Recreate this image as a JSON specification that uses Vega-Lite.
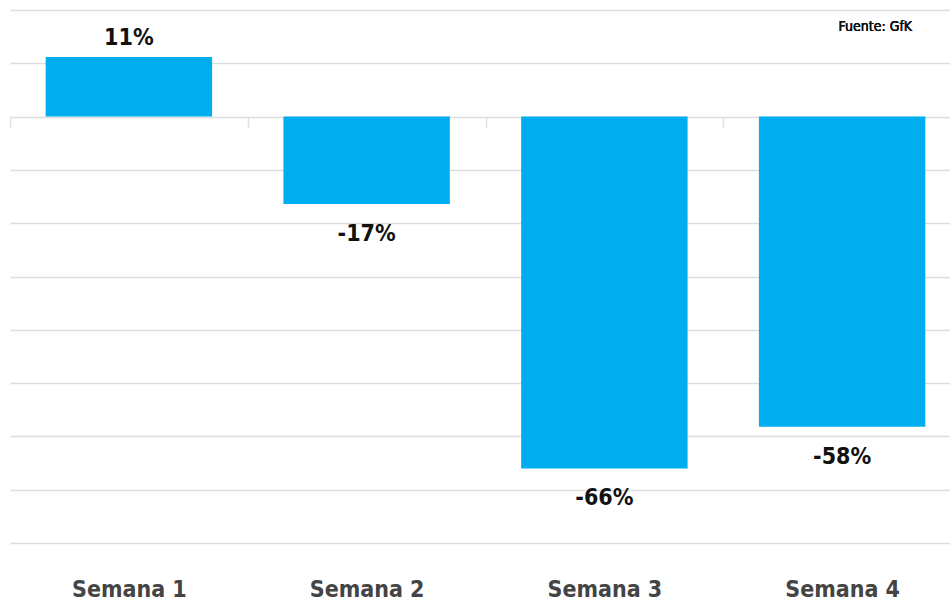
{
  "$schema": "https://vega.github.io/schema/vega-lite/v6.json",
  "autosize": "none",
  "padding": {"left": 10, "top": 10, "right": 0, "bottom": 64},
  "width": 951,
  "height": 533,
  "background": "white",
  "config": {"view": {"stroke": null}, "font": "DejaVu Sans Condensed"},
  "data": {"values": [
    {"semana": "Semana 1", "value": 11.2, "label": "11%"},
    {"semana": "Semana 2", "value": -16.4, "label": "-17%"},
    {"semana": "Semana 3", "value": -66, "label": "-66%"},
    {"semana": "Semana 4", "value": -58.2, "label": "-58%"}
  ]},
  "encoding": {
    "x": {"field": "semana", "type": "nominal", "sort": null, "title": null,
      "scale": {"paddingInner": 0.3, "paddingOuter": 0.15},
      "axis": {"orient": "bottom", "offset": -426, "domain": false,
        "ticks": true, "tickOffset": -118.85, "labelOffset": 118.85, "tickSize": 10, "tickColor": "#dddddd", "tickWidth": 1.5,
        "labelAngle": 0, "labelFontSize": 23, "labelFontWeight": "bold",
        "labelColor": "#444444", "labelPadding": 451, "labelFont": "DejaVu Sans Condensed"}},
    "y": {"field": "value", "type": "quantitative", "title": null,
      "scale": {"domain": [-80, 20], "nice": false, "zero": false},
      "axis": {"orient": "left", "domain": false, "ticks": false, "labels": false,
        "values": [-80, -70, -60, -50, -40, -30, -20, -10, 0, 10, 20],
        "grid": true, "gridColor": "#dddddd", "gridWidth": 1.5}}
  },
  "layer": [
    {
      "mark": {"type": "bar", "color": "#00AEEF"}
    },
    {
      "transform": [{"filter": "datum.value > 0"}],
      "mark": {"type": "text", "baseline": "alphabetic", "dy": -12, "fontSize": 23, "fontWeight": "bold", "color": "#111111", "font": "DejaVu Sans Condensed"},
      "encoding": {"text": {"field": "label"}}
    },
    {
      "transform": [{"filter": "datum.value < 0"}],
      "mark": {"type": "text", "baseline": "top", "dy": 19, "fontSize": 23, "fontWeight": "bold", "color": "#111111", "font": "DejaVu Sans Condensed"},
      "encoding": {"text": {"field": "label"}}
    },
    {
      "mark": {"type": "text", "align": "right", "baseline": "alphabetic", "dx": 70, "fontSize": 14, "color": "#111111", "font": "DejaVu Sans Condensed"},
      "encoding": {
        "x": {"datum": "Semana 4"},
        "y": {"datum": 16},
        "text": {"value": "Fuente: GfK"}
      }
    }
  ]
}
